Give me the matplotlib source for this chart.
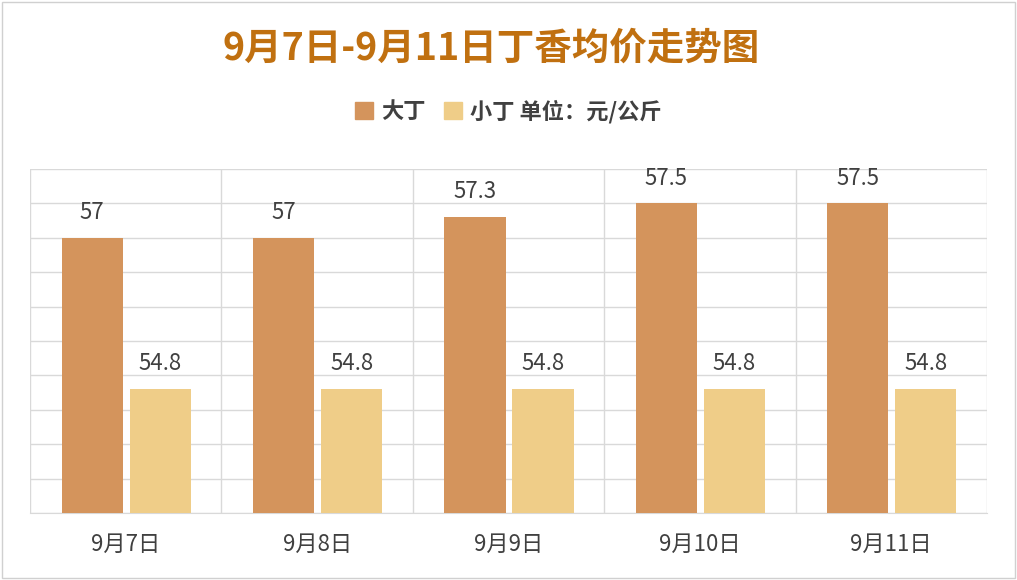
import matplotlib.pyplot as plt
import numpy as np
from matplotlib.patches import Patch

plt.rcParams['font.family'] = ['Noto Sans CJK SC', 'DejaVu Sans']

categories = ['9月7日', '9月8日', '9月9日', '9月10日', '9月11日']
big = [57, 57, 57.3, 57.5, 57.5]
small = [54.8, 54.8, 54.8, 54.8, 54.8]

c_big = '#D4945C'
c_small = '#EFCD88'

fig = plt.figure(figsize=(10.17, 5.8), dpi=100)
ax = fig.add_axes([0.0295, 0.1155, 0.941, 0.593])
x = np.arange(len(categories))
w = 0.32
b1 = ax.bar(x - 0.175, big, w, color=c_big, zorder=3)
b2 = ax.bar(x + 0.18, small, w, color=c_small, zorder=3)
for rects, vals in ((b1, big), (b2, small)):
    for r, v in zip(rects, vals):
        ax.text(r.get_x() + r.get_width() / 2, v + 0.2, f'{v:g}', ha='center', va='bottom',
                fontsize=16, color='#404040')

ax.set_ylim(53, 58)
ax.set_xlim(-0.5, len(categories) - 0.5)
ax.set_yticks(np.arange(53, 58.01, 0.5))
ax.set_yticklabels([])
ax.tick_params(axis='y', length=0)
ax.tick_params(axis='x', length=0, labelsize=16, labelcolor='#404040', pad=14)
ax.set_xticks(x)
ax.set_xticklabels(categories)
ax.set_xticks(np.arange(-0.5, len(categories)), minor=True)
ax.tick_params(axis='x', which='minor', length=0)
ax.grid(axis='y', color='#D9D9D9', lw=1, zorder=0)
ax.grid(axis='x', which='minor', color='#D9D9D9', lw=1, zorder=0)
for s in ax.spines.values():
    s.set_visible(False)
ax.spines['bottom'].set_visible(True)
ax.spines['bottom'].set_color('#D9D9D9')

fig.text(0.483, 0.918, '9月7日-9月11日丁香均价走势图', ha='center', va='center',
         fontsize=27, fontweight='bold', color='#C07010')
fig.legend(handles=[Patch(color=c_big, label='大丁'), Patch(color=c_small, label='小丁 单位：元/公斤')],
           loc='center', bbox_to_anchor=(0.5, 0.808), ncol=2, frameon=False,
           prop={'size': 16, 'weight': 'bold'}, labelcolor='#404040',
           handlelength=0.8, handleheight=0.8, columnspacing=0.8, handletextpad=0.4)
fig.add_artist(plt.Rectangle((0.002, 0.003), 0.996, 0.994, transform=fig.transFigure,
                             fill=False, edgecolor='#D0D0D0', lw=1))
fig.savefig('out.png', dpi=100)
